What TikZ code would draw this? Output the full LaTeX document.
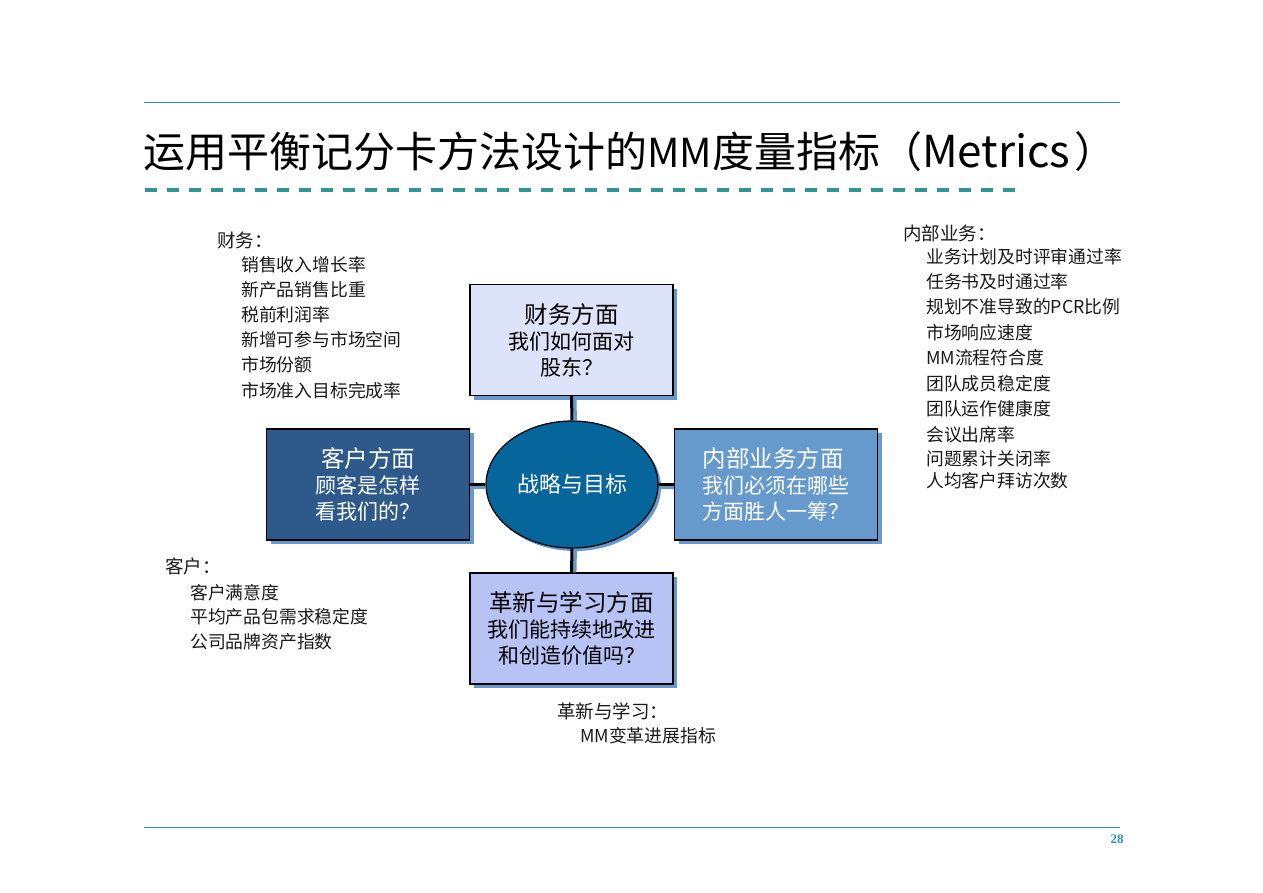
\documentclass[tikz,border=0pt]{standalone}
\usepackage{fontspec}
\setmainfont{Noto Sans CJK SC}
\newfontfamily\numfont{Liberation Serif}
\usetikzlibrary{shapes.geometric,shadows}
\definecolor{tealline}{HTML}{2E9696}
\definecolor{shblue}{HTML}{6699CC}
\definecolor{topfill}{HTML}{DDE3F8}
\definecolor{leftfill}{HTML}{2D5A8A}
\definecolor{rightfill}{HTML}{6699CC}
\definecolor{botfill}{HTML}{B8C3F5}
\definecolor{ctrfill}{HTML}{06659A}
\definecolor{txt}{HTML}{1A1A1A}
\newcommand{\bh}[1]{{\fontsize{23.5}{27}\selectfont #1}}
\tikzset{
  rule/.style={draw=tealline, line width=1pt},
  box/.style={rectangle, draw=black, line width=1.3pt, minimum width=203pt, minimum height=111pt,
    inner sep=0pt, align=center, font=\fontsize{21}{26}\selectfont,
    drop shadow={shadow xshift=4pt, shadow yshift=-4pt, fill=shblue, opacity=1}},
  ctrnode/.style={ellipse, draw=black, line width=1.2pt, minimum width=172pt, minimum height=127pt,
    fill=ctrfill, text=white, font=\fontsize{22}{26}\selectfont,
    drop shadow={shadow xshift=3pt, shadow yshift=-3pt, fill=shblue, opacity=1}},
  conn/.style={draw=black, line width=3pt},
  connsh/.style={draw=shblue, line width=3.5pt},
  head/.style={anchor=west, text=txt, inner sep=0pt, font=\fontsize{18.5}{20}\selectfont},
  item/.style={anchor=west, text=txt, inner sep=0pt, font=\fontsize{17.8}{20}\selectfont},
}
\begin{document}
\begin{tikzpicture}[x=1pt,y=-1pt]
\fill[white] (0,0) rectangle (1263,892);
\useasboundingbox (0,0) rectangle (1263,892);

% rules
\coordinate (r1a) at (144,102); \coordinate (r1b) at (1120,102);
\coordinate (r2a) at (144,827); \coordinate (r2b) at (1120,827);
\coordinate (da) at (145,190); \coordinate (db) at (1015,190);
\draw[rule] (r1a) -- (r1b);
\draw[rule] (r2a) -- (r2b);
\draw[draw=tealline, line width=4pt, dash pattern=on 12pt off 10pt] (da) -- (db);

% title
\node[anchor=west, inner sep=0pt, text=black, font=\fontsize{42}{46}\selectfont] (title) at (143,152)
  {运用平衡记分卡方法设计的{\fontsize{40}{44}\selectfont MM}度量指标（{\fontsize{44}{46}\selectfont Metrics}\hspace{4pt}）};

% page number
\node[inner sep=0pt, text=tealline, font=\numfont\bfseries\fontsize{13}{13}\selectfont] (pg) at (1117,839) {28};

% boxes
\node[box, fill=topfill, text=black] (top) at (571.5,340) {\bh{财务方面}\\我们如何面对\\股东？};
\node[box, fill=leftfill, text=white] (left) at (368,484.5) {\bh{客户方面}\\顾客是怎样\\看我们的？};
\node[box, fill=rightfill, text=white, align=left] (right) at (776,484.5) {\bh{内部业务方面}\\我们必须在哪些\\方面胜人一筹？};
\node[box, fill=botfill, text=black] (bot) at (571.5,628.5) {\bh{革新与学习方面}\\我们能持续地改进\\和创造价值吗？};
\node[ctrnode] (ctr) at (572,484.5) {战略与目标};

% connectors: blue shadow line beside each black line
\draw[connsh] ([xshift=3.2pt]top.south) -- ([xshift=3.2pt]ctr.north);
\draw[connsh] ([xshift=3.2pt]bot.north) -- ([xshift=3.2pt]ctr.south);
\draw[connsh] ([yshift=-3.2pt]left.east) -- ([yshift=-3.2pt]ctr.west);
\draw[connsh] ([yshift=-3.2pt]right.west) -- ([yshift=-3.2pt]ctr.east);
\draw[conn] (top.south) -- (ctr.north);
\draw[conn] (bot.north) -- (ctr.south);
\draw[conn] (left.east) -- (ctr.west);
\draw[conn] (right.west) -- (ctr.east);

% finance list
\node[head] (fh) at (217,240) {财务：};
\node[item] (f1) at (241,265) {销售收入增长率};
\node[item] (f2) at (241,290) {新产品销售比重};
\node[item] (f3) at (241,315) {税前利润率};
\node[item] (f4) at (241,340) {新增可参与市场空间};
\node[item] (f5) at (241,365) {市场份额};
\node[item] (f6) at (241,391) {市场准入目标完成率};

% internal list
\node[head] (ih) at (903,233) {内部业务：};
\node[item] (i1) at (926,257) {业务计划及时评审通过率};
\node[item] (i2) at (926,282) {任务书及时通过率};
\node[item] (i3) at (926,307) {规划不准导致的PCR比例};
\node[item] (i4) at (926,333) {市场响应速度};
\node[item] (i5) at (926,358) {MM流程符合度};
\node[item] (i6) at (926,384) {团队成员稳定度};
\node[item] (i7) at (926,409) {团队运作健康度};
\node[item] (i8) at (926,435) {会议出席率};
\node[item] (i9) at (926,459) {问题累计关闭率};
\node[item] (i10) at (926,481) {人均客户拜访次数};

% customer list
\node[head] (ch) at (165,566) {客户：};
\node[item] (c1) at (190,593) {客户满意度};
\node[item] (c2) at (190,617) {平均产品包需求稳定度};
\node[item] (c3) at (190,642) {公司品牌资产指数};

% learning list
\node[head] (lh) at (557,711) {革新与学习：};
\node[item] (l1) at (580,736) {MM变革进展指标};
\end{tikzpicture}
\end{document}
